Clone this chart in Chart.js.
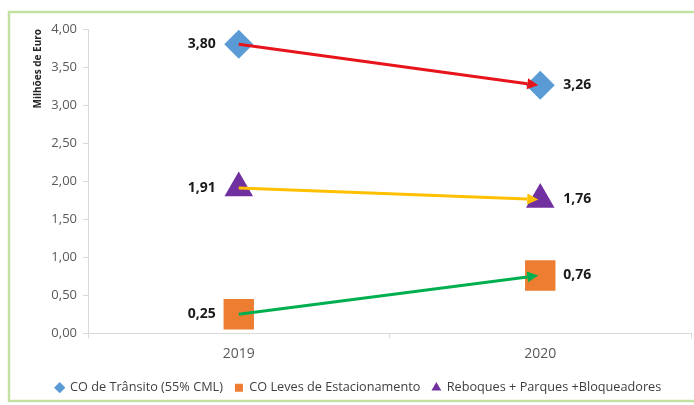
<!DOCTYPE html>
<html>
<head>
<meta charset="utf-8">
<script src="https://cdn.jsdelivr.net/npm/chart.js@4.4.1/dist/chart.umd.min.js"></script>
<style>
  html, body { margin: 0; padding: 0; background: #ffffff; }
  #c { display: block; }
</style>
</head>
<body>
<canvas id="c" width="694" height="405"></canvas>
<script>
const categories = ['2019', '2020'];
const seriesNames = ['CO de Trânsito (55% CML)', 'CO Leves de Estacionamento', 'Reboques + Parques +Bloqueadores'];
const transito = [3.80, 3.26];
const leves = [0.25, 0.76];
const reboques = [1.91, 1.76];
const yMin = 0, yMax = 4, yStep = 0.5;

const fmt = v => v.toFixed(2).replace('.', ',');

const framePlugin = {
  id: 'frame',
  beforeDraw(chart) {
    const ctx = chart.ctx;
    ctx.save();
    ctx.fillStyle = '#ffffff';
    ctx.fillRect(0, 0, chart.width, chart.height);
    ctx.strokeStyle = '#c4e1a4';
    ctx.lineWidth = 2.5;
    ctx.strokeRect(9, 12, chart.width + 10, 389);
    ctx.restore();
  }
};

const arrowPlugin = {
  id: 'arrows',
  afterDatasetsDraw(chart) {
    const ctx = chart.ctx;
    chart.data.datasets.forEach((ds, i) => {
      const pts = chart.getDatasetMeta(i).data;
      if (pts.length < 2) return;
      const x0 = pts[0].x, y0 = pts[0].y, x1 = pts[1].x - 2, y1 = pts[1].y;
      const ang = Math.atan2(y1 - y0, x1 - x0);
      const headLen = 11, headW = 5.5;
      const bx = x1 - headLen * Math.cos(ang), by = y1 - headLen * Math.sin(ang);
      ctx.save();
      ctx.strokeStyle = ds.arrowColor;
      ctx.fillStyle = ds.arrowColor;
      ctx.lineWidth = 3;
      ctx.beginPath();
      ctx.moveTo(x0, y0);
      ctx.lineTo(bx, by);
      ctx.stroke();
      ctx.beginPath();
      ctx.moveTo(x1, y1);
      ctx.lineTo(bx + headW * Math.sin(ang), by - headW * Math.cos(ang));
      ctx.lineTo(bx - headW * Math.sin(ang), by + headW * Math.cos(ang));
      ctx.closePath();
      ctx.fill();
      ctx.restore();
    });
  }
};

const labelPlugin = {
  id: 'valueLabels',
  afterDatasetsDraw(chart) {
    const ctx = chart.ctx;
    ctx.save();
    ctx.font = 'bold 14px "Open Sans"';
    ctx.fillStyle = '#1a1a1a';
    ctx.textBaseline = 'middle';
    chart.data.datasets.forEach((ds, i) => {
      const pts = chart.getDatasetMeta(i).data;
      pts.forEach((p, j) => {
        const txt = fmt(ds.data[j]);
        if (j === 0) {
          ctx.textAlign = 'right';
          ctx.fillText(txt, p.x - 23, p.y);
        } else {
          ctx.textAlign = 'left';
          ctx.fillText(txt, p.x + 23, p.y);
        }
      });
    });
    ctx.restore();
  }
};

new Chart(document.getElementById('c'), {
  type: 'line',
  data: {
    labels: categories,
    datasets: [
      {
        label: seriesNames[0], data: transito, showLine: false,
        pointStyle: 'rectRot', pointRadius: 14.5,
        backgroundColor: '#5b9bd5', borderColor: '#5b9bd5', pointBorderWidth: 0,
        arrowColor: '#e8141b'
      },
      {
        label: seriesNames[1], data: leves, showLine: false,
        pointStyle: 'rect', pointRadius: 21.5,
        backgroundColor: '#ed7d31', borderColor: '#ed7d31', pointBorderWidth: 0,
        arrowColor: '#00b050'
      },
      {
        label: seriesNames[2], data: reboques, showLine: false,
        pointStyle: 'triangle', pointRadius: 16.5,
        backgroundColor: '#7030a0', borderColor: '#7030a0', pointBorderWidth: 0,
        arrowColor: '#ffc000'
      }
    ]
  },
  options: {
    responsive: false,
    animation: false,
    events: [],
    devicePixelRatio: 1,
    layout: { autoPadding: false, padding: { left: 26, right: 3, top: 29, bottom: 1 } },
    plugins: {
      legend: {
        position: 'bottom',
        labels: {
          usePointStyle: true,
          boxWidth: 8, boxHeight: 8,
          padding: 12,
          color: '#404040',
          font: { family: '"Open Sans"', size: 12.7 }
        }
      },
      tooltip: { enabled: false }
    },
    scales: {
      x: {
        offset: true,
        grid: { display: true, offset: true, drawOnChartArea: false, drawTicks: true, tickLength: 5, color: '#d9d9d9' },
        border: { display: true, color: '#d9d9d9', width: 1 },
        ticks: { color: '#595959', padding: 7, font: { family: '"Open Sans"', size: 14 } },
        afterFit: s => { s.height = 36; }
      },
      y: {
        min: yMin, max: yMax,
        grid: { display: true, drawOnChartArea: false, drawTicks: true, tickLength: 5, color: '#d9d9d9' },
        border: { display: true, color: '#d9d9d9', width: 1 },
        ticks: {
          stepSize: yStep, color: '#595959', padding: 6,
          font: { family: '"Open Sans"', size: 13 },
          callback: v => fmt(v)
        },
        title: {
          display: true, text: 'Milhões de Euro', align: 'end',
          color: '#262626', padding: { top: 6, bottom: 0 },
          font: { family: '"Open Sans"', size: 10, weight: 'bold' }
        },
        afterFit: s => { s.width = 62; }
      }
    }
  },
  plugins: [framePlugin, arrowPlugin, labelPlugin]
});
</script>
</body>
</html>
